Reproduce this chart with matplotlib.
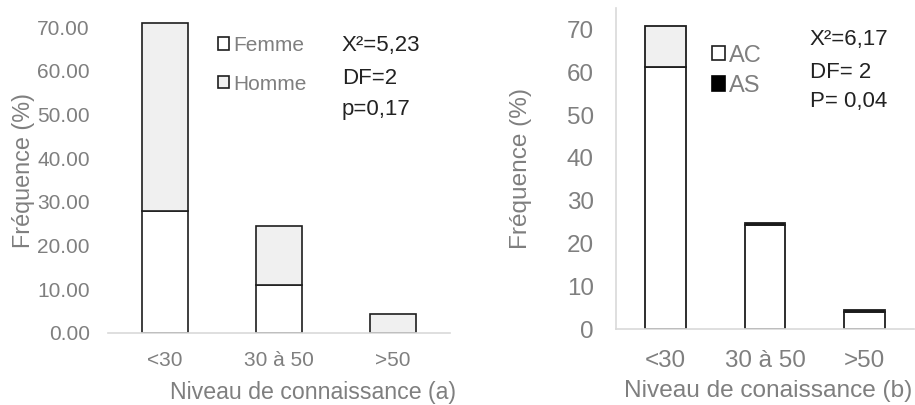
import matplotlib
matplotlib.use("Agg")
import matplotlib.pyplot as plt
from matplotlib.patches import Patch

# ── Data ─────────────────────────────────────────────────────────────────────
categories = ["<30", "30 à 50", ">50"]

femme = [27.9, 10.9, 0.0]
homme = [43.2, 13.6, 4.4]
stats_a = ["X²=5,23", "DF=2", "p=0,17"]

ac = [61.2, 24.3, 4.0]
as_ = [9.7, 0.5, 0.5]
as_colors = ["#f0f0f0", "black", "black"]
stats_b = ["X²=6,17", "DF= 2", "P= 0,04"]

GREY_TXT = "#7f7f7f"
EDGE = "#1e1e1e"
LIGHT = "#f0f0f0"
AXIS = "#d9d9d9"

plt.rcParams["font.family"] = ["Liberation Sans", "DejaVu Sans"]

W, H = 915, 405
fig = plt.figure(figsize=(W / 100, H / 100), dpi=100)


def px_axes(x0, x1, y0, y1):
    """Axes rectangle from pixel edges (y measured from the top)."""
    return fig.add_axes([x0 / W, 1 - y1 / H, (x1 - x0) / W, (y1 - y0) / H])


# ── (a) Sexe ─────────────────────────────────────────────────────────────────
ax1 = px_axes(108, 450, 5.5, 332.7)
x = range(len(categories))
ax1.bar(x, femme, width=0.4, color="white", edgecolor=EDGE, linewidth=1.2,
        label="Femme")
ax1.bar(x, homme, width=0.4, bottom=femme, color=LIGHT, edgecolor=EDGE,
        linewidth=1.2, label="Homme")
ax1.set_xlim(-0.5, 2.5)
ax1.set_ylim(0, 75)
ax1.set_yticks(range(0, 71, 10))
ax1.set_yticklabels([f"{v:.2f}" for v in range(0, 71, 10)])
ax1.set_xticks(list(x))
ax1.set_xticklabels(categories)
ax1.tick_params(axis="y", length=0, pad=13, labelsize=15, labelcolor=GREY_TXT)
ax1.tick_params(axis="x", length=0, pad=13.5, labelsize=15, labelcolor=GREY_TXT)
for s in ["top", "right", "left"]:
    ax1.spines[s].set_visible(False)
ax1.spines["bottom"].set_color(AXIS)
ax1.spines["bottom"].set_linewidth(1.2)
ax1.set_ylabel("Fréquence (%)", fontsize=16.8, color=GREY_TXT)
ax1.yaxis.set_label_coords(-0.213, 0.497)
ax1.set_xlabel("Niveau de connaissance (a)", fontsize=16.7, color=GREY_TXT)
ax1.xaxis.set_label_coords(0.599, -0.149)

ax1.legend(loc="upper left", bbox_to_anchor=(0.321, 0.907), frameon=False,
           fontsize=15, labelcolor=GREY_TXT, handlelength=0.53,
           handleheight=0.53, handletextpad=0.2, labelspacing=0.94,
           borderpad=0, borderaxespad=0)

for line, yp in zip(stats_a, [46, 79, 110]):
    ax1.text(0.684, (332.7 - yp) / 327.2, line, transform=ax1.transAxes,
             fontsize=16, color="#222222", va="center", ha="left")

# ── (b) Connaissance AC / AS ─────────────────────────────────────────────────
ax2 = px_axes(616, 914, 8, 329.3)
ax2.bar(x, ac, width=0.41, color="white", edgecolor=EDGE, linewidth=1.3)
ax2.bar(x, as_, width=0.41, bottom=ac, color=as_colors, edgecolor=EDGE,
        linewidth=1.3)
ax2.set_xlim(-0.5, 2.5)
ax2.set_ylim(0, 75)
ax2.set_yticks(range(0, 71, 10))
ax2.set_xticks(list(x))
ax2.set_xticklabels(categories)
ax2.tick_params(axis="y", length=0, pad=16, labelsize=17.4, labelcolor=GREY_TXT)
ax2.tick_params(axis="x", length=0, pad=15, labelsize=17.4, labelcolor=GREY_TXT)
for s in ["top", "right"]:
    ax2.spines[s].set_visible(False)
for s in ["left", "bottom"]:
    ax2.spines[s].set_color(AXIS)
    ax2.spines[s].set_linewidth(1.2)
ax2.set_ylabel("Fréquence (%)", fontsize=17.6, color=GREY_TXT)
ax2.yaxis.set_label_coords(-0.282, 0.502)
ax2.set_xlabel("Niveau de conaissance (b)", fontsize=17.6, color=GREY_TXT)
ax2.xaxis.set_label_coords(0.51, -0.159)

handles = [Patch(facecolor="white", edgecolor=EDGE, linewidth=1.2),
           Patch(facecolor="black", edgecolor="black", linewidth=1.2)]
ax2.legend(handles, ["AC", "AS"], loc="upper left",
           bbox_to_anchor=(0.322, 0.886), frameon=False, fontsize=17,
           labelcolor=GREY_TXT, handlelength=0.55, handleheight=0.55,
           handletextpad=0.15, labelspacing=0.35, borderpad=0,
           borderaxespad=0)

for line, yp in zip(stats_b, [40, 72, 102]):
    ax2.text(0.651, (329.3 - yp) / 321.3, line, transform=ax2.transAxes,
             fontsize=16, color="#222222", va="center", ha="left")

fig.savefig("out.png", dpi=100)
